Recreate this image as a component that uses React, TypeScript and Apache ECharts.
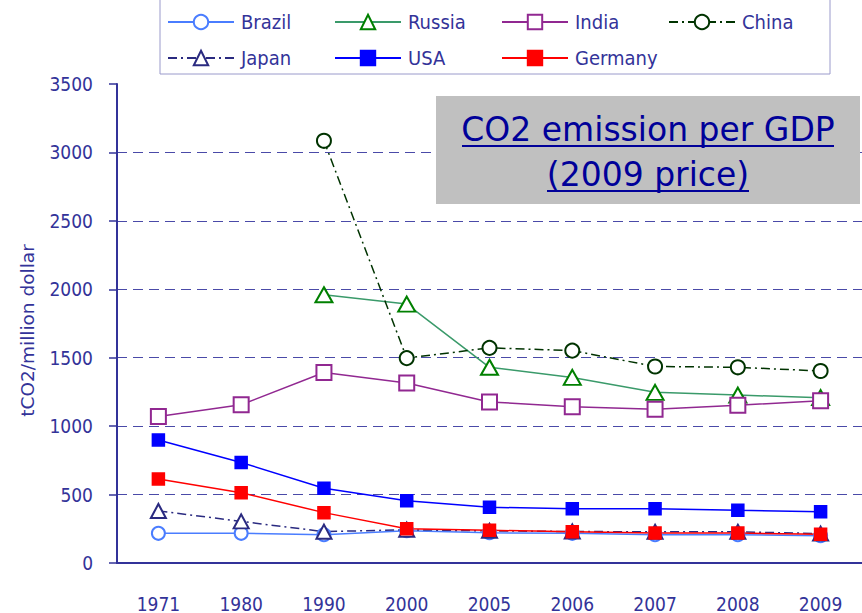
import React, { useEffect, useRef } from "react";
import * as echarts from "echarts";

const years = ["1971", "1980", "1990", "2000", "2005", "2006", "2007", "2008", "2009"];
const brazil = [217, 217, 207, 236, 221, 217, 207, 207, 199];
const russia = [null, null, 1960, 1892, 1430, 1356, 1247, 1227, 1208];
const india = [1070, 1156, 1392, 1316, 1177, 1142, 1123, 1152, 1186];
const china = [null, null, 3085, 1497, 1572, 1552, 1436, 1430, 1403];
const japan = [380, 304, 229, 243, 235, 230, 228, 228, 215];
const usa = [899, 735, 546, 455, 407, 397, 397, 385, 375];
const germany = [614, 514, 368, 250, 239, 229, 219, 219, 210];

const yMin = 0;
const yMax = 3500;
const yStep = 500;
const yName = "tCO2/million dollar";
const titleLines = ["CO2 emission per GDP", "(2009 price)"];
const legendRows = [
  ["Brazil", "Russia", "India", "China"],
  ["Japan", "USA", "Germany"],
];

const FONT = "'DejaVu Sans', Verdana, sans-serif";
const CFONT = "'DejaVu Sans Condensed', 'DejaVu Sans', sans-serif";
const NAVY = "#333399";

function mk(
  name: string,
  data: (number | null)[],
  color: string,
  lineColor: string,
  symbol: string,
  size: number | number[],
  dash: any
) {
  return {
    type: "line",
    name,
    data,
    symbol,
    symbolSize: size,
    showAllSymbol: true,
    lineStyle: { color: lineColor, width: 1.5, type: dash },
    itemStyle: { color, borderColor: color, borderWidth: 1.5 },
  };
}

export default function App() {
  const ref = useRef<HTMLDivElement>(null);
  useEffect(() => {
    if (!ref.current) return;
    const chart = echarts.init(ref.current, null, { renderer: "svg" });
    const colLeft = [167, 334, 501, 668];
    const rowTop = [12, 48];
    const legends: any[] = [];
    legendRows.forEach((row, r) =>
      row.forEach((name, c) =>
        legends.push({
          left: colLeft[c],
          top: rowTop[r],
          padding: 0,
          itemWidth: 66,
          itemHeight: 18,
          data: [name],
          textStyle: {
            fontFamily: CFONT,
            fontSize: 20,
            color: NAVY,
            padding: [0, 0, 0, 2],
          },
        })
      )
    );
    chart.setOption({
      animation: false,
      backgroundColor: "#ffffff",
      textStyle: { fontFamily: FONT },
      grid: { left: 117, right: -22, top: 84, bottom: 50, containLabel: false },
      legend: legends,
      xAxis: {
        type: "category",
        data: years,
        boundaryGap: true,
        axisLine: { lineStyle: { color: NAVY, width: 2 } },
        axisTick: { show: false },
        axisLabel: { color: NAVY, fontSize: 19, fontFamily: CFONT, margin: 31 },
        splitLine: { show: false },
      },
      yAxis: {
        type: "value",
        min: yMin,
        max: yMax,
        interval: yStep,
        name: yName,
        nameLocation: "middle",
        nameGap: 80,
        nameTextStyle: {
          color: NAVY,
          fontSize: 18.5,
          fontFamily: FONT,
          padding: [0, 14, 0, 0],
        },
        axisLine: { show: true, lineStyle: { color: NAVY, width: 2 } },
        axisTick: { show: true, length: 8, lineStyle: { color: NAVY, width: 1.5 } },
        axisLabel: {
          color: NAVY,
          fontSize: 19,
          fontFamily: CFONT,
          margin: 24,
          formatter: (v: number) => String(v),
        },
        splitLine: {
          show: true,
          showMinLine: false,
          showMaxLine: false,
          lineStyle: { color: "#4a4aa8", width: 1, type: [10, 6] },
        },
      },
      series: [
        mk("Brazil", brazil, "#4a7dff", "#4a7dff", "emptyCircle", 13, "solid"),
        mk("Russia", russia, "#008000", "#3a9a6a", "emptyTriangle", [17, 15], "solid"),
        mk("India", india, "#912891", "#912891", "emptyRect", 15, "solid"),
        mk("China", china, "#003300", "#003300", "emptyCircle", 14, [9, 4, 2, 4]),
        mk("Japan", japan, "#2a2a80", "#2a2a80", "emptyTriangle", [15, 14], [9, 4, 2, 4]),
        mk("USA", usa, "#0000ff", "#0000ff", "rect", 12, "solid"),
        mk("Germany", germany, "#ff0000", "#ff0000", "rect", 12, "solid"),
      ],
      graphic: [
        {
          type: "rect",
          z: 100,
          shape: { x: 160, y: -5, width: 670, height: 79 },
          style: { fill: "none", stroke: "#9a9acb", lineWidth: 1 },
        },
        {
          type: "rect",
          z: 100,
          shape: { x: 436, y: 96, width: 424, height: 108 },
          style: { fill: "#c0c0c0" },
        },
        {
          type: "text",
          z: 101,
          x: 648,
          y: 129.5,
          style: {
            text: titleLines[0],
            fontFamily: FONT,
            fontSize: 33,
            fill: "#000099",
            align: "center",
            verticalAlign: "middle",
          },
        },
        {
          type: "text",
          z: 101,
          x: 648,
          y: 174,
          style: {
            text: titleLines[1],
            fontFamily: FONT,
            fontSize: 33,
            fill: "#000099",
            align: "center",
            verticalAlign: "middle",
          },
        },
        {
          type: "line",
          z: 101,
          shape: { x1: 462, y1: 146, x2: 834, y2: 146 },
          style: { stroke: "#000099", lineWidth: 2 },
        },
        {
          type: "line",
          z: 101,
          shape: { x1: 547, y1: 191, x2: 749, y2: 191 },
          style: { stroke: "#000099", lineWidth: 2 },
        },
      ],
    });
    return () => chart.dispose();
  }, []);
  return (
    <div
      ref={ref}
      style={{ position: "absolute", left: 0, top: 0, width: 862, height: 613 }}
    />
  );
}
